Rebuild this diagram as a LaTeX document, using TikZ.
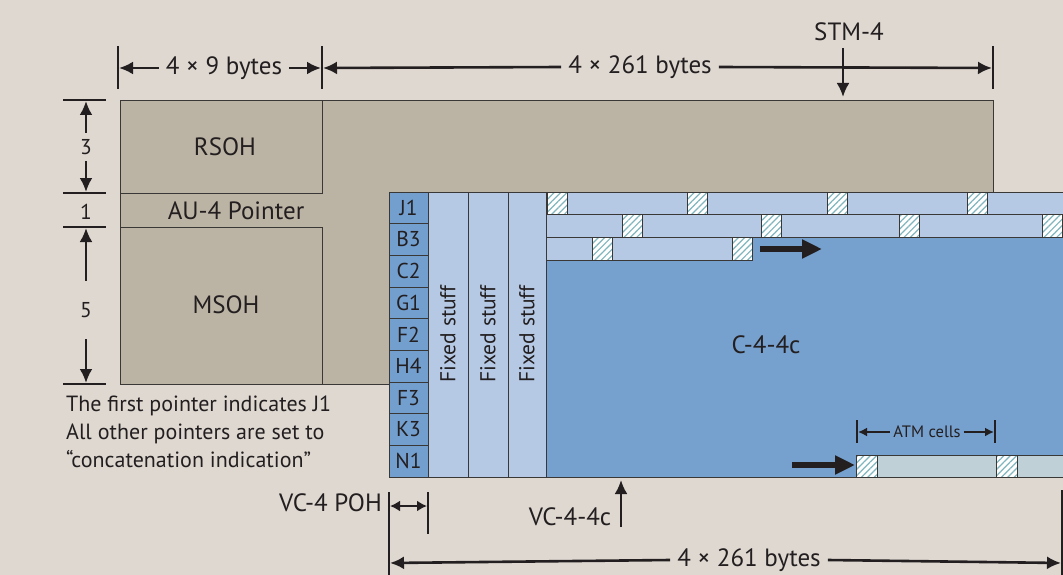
\documentclass[tikz,border=0pt]{standalone}
\usepackage{fontspec}
\setmainfont{PT Sans}
\usepackage{tikz}
\usetikzlibrary{positioning,calc,arrows.meta,patterns.meta}

\definecolor{paper}{HTML}{DFD8D1}
\definecolor{soh}{HTML}{BBB3A4}
\definecolor{edge}{HTML}{3A3836}
\definecolor{ink}{HTML}{231F20}
\definecolor{pohblue}{HTML}{739FCF}
\definecolor{cfour}{HTML}{76A0CE}
\definecolor{fixed}{HTML}{B5C9E5}
\definecolor{atmbar}{HTML}{BFD1D7}
\definecolor{hatch}{HTML}{7FB5BD}

\begin{document}
\begin{tikzpicture}[x=1pt, y=-1pt,
    box/.style={draw=edge, line width=0.9pt},
    lbl/.style={font=\fontsize{25}{29}\selectfont, text=ink, inner sep=4pt},
    dimlbl/.style={lbl, inner xsep=7pt},
    small/.style={font=\fontsize{21.5}{25}\selectfont, text=ink, inner sep=1pt},
    dim/.style={draw=ink, line width=2.6pt, -{Latex[length=14pt,width=13pt]}},
    tinydim/.style={draw=ink, line width=2pt, -{Latex[length=9pt,width=9pt]}},
    tick/.style={draw=ink, line width=1.4pt},
    fat/.style={draw=ink, line width=5.5pt, -{Triangle[length=20pt,width=18pt]}},
    hatchcell/.style={box, preaction={fill=white},
        pattern={Lines[angle=45,distance=4.5pt,line width=1.2pt]}, pattern color=hatch},
]
    % Background and page size
    \useasboundingbox (0,0) rectangle (1063,575);
    \fill[paper] (0,0) rectangle (1063,575);

    % STM-4 frame: section overhead
    \draw[box, fill=soh] (120,100) rectangle (993,384);
    \draw[box] (120,100) rectangle (322,193);
    \draw[box] (120,227) rectangle (322,384);
    \node[lbl] (rsoh) at (225,147) {RSOH};
    \node[lbl] (ptr) at (236,211) {AU-4 Pointer};
    \node[lbl] (msoh) at (226,305) {MSOH};

    % VC-4-4c: path overhead column
    \foreach \r [count=\i] in {J1,B3,C2,G1,F2,H4,F3,K3,N1} {
        \node[box, fill=pohblue, small, minimum width=39pt, minimum height=31.67pt]
            (poh\i) at (408.5,{192+31.67*(\i-0.5)}) {\r};
    }

    % Fixed stuff columns
    \foreach \xa/\xb [count=\i] in {428/468, 468/508, 508/546} {
        \draw[box, fill=fixed] (\xa,192) rectangle (\xb,477);
        \node[small, rotate=90] (fs\i) at ({(\xa+\xb)/2},334) {Fixed stuff};
    }

    % C-4-4c payload area
    \draw[box, fill=cfour] (546,192) rectangle (1067,477);
    \node[lbl] (c4) at (766,345) {C-4-4c};

    % ATM cell rows at the top
    \draw[box, fill=fixed] (546,192) rectangle (1067,214.5);
    \draw[box, fill=fixed] (546,214.5) rectangle (1067,237);
    \draw[box, fill=fixed] (546,237) rectangle (752,260);
    \foreach \x in {547,687,827,967} \draw[hatchcell] (\x,192) rectangle ++(20,22.5);
    \foreach \x in {622,761,899,1042} \draw[hatchcell] (\x,214.5) rectangle ++(20,22.5);
    \foreach \x in {592,732} \draw[hatchcell] (\x,237) rectangle ++(20,23);
    \coordinate (rowtail) at (760,249);
    \coordinate (rowhead) at (822,249);
    \draw[fat] (rowtail) -- (rowhead);

    % ATM cell row at the bottom
    \draw[box, fill=atmbar] (856,455) rectangle (1067,477);
    \foreach \x in {856,996} \draw[hatchcell] (\x,455) rectangle ++(21,22);
    \coordinate (celltail) at (792,465);
    \coordinate (cellin) at (855,465);
    \draw[fat] (celltail) -- (cellin);

    % ATM cells dimension
    \draw[tick] (857,420) -- (857,443);
    \draw[tick] (995,420) -- (995,443);
    \node[font=\fontsize{16.5}{19}\selectfont, text=ink, inner sep=3pt] (atm) at (927,432) {ATM cells};
    \draw[tinydim] (atm.west) -- (858,432);
    \draw[tinydim] (atm.east) -- (994,432);

    % Top dimensions
    \foreach \x in {118,322,993} \draw[tick] (\x,46) -- (\x,89);
    \node[dimlbl] (w9) at (224,68) {4 × 9 bytes};
    \draw[dim] (w9.west) -- (119,68);
    \draw[dim] (w9.east) -- (321,68);
    \node[dimlbl] (w261) at (640,67) {4 × 261 bytes};
    \draw[dim] (w261.west) -- (323,68);
    \draw[dim] (w261.east) -- (992,68);
    \node[lbl] (stm) at (849,32) {STM-4};
    \coordinate (stmtip) at (843,97);
    \draw[dim] (843,48) -- (stmtip);

    % Left dimensions (rows)
    \foreach \y in {100,193,227,384} \draw[tick] (63,\y) -- (106,\y);
    \node[small, minimum height=28pt] (h3) at (86,147) {3};
    \draw[dim] (h3.north) -- (86,101);
    \draw[dim] (h3.south) -- (86,192);
    \node[small] (h1) at (86,212) {1};
    \node[small, minimum height=58pt] (h5) at (86,310) {5};
    \draw[dim] (h5.north) -- (86,228);
    \draw[dim] (h5.south) -- (86,383);

    % Pointer note
    \node[font=\fontsize{22}{28}\selectfont, text=ink, align=left, anchor=north west, inner sep=0pt]
        (note) at (66,396) {The first pointer indicates J1\\All other pointers are set to\\“concatenation indication”};

    % Bottom dimensions
    \draw[tick] (389,492) -- (389,576);
    \draw[tick] (428,492) -- (428,534);
    \draw[tick] (1062,490) -- (1062,576);
    \node[lbl, anchor=east] (pohlbl) at (386,503) {VC-4 POH};
    \draw[draw=ink, line width=2.6pt, {Latex[length=10pt,width=11pt]}-{Latex[length=10pt,width=11pt]}] (390,506) -- (427,506);
    \node[lbl] (vc) at (570,517) {VC-4-4c};
    \coordinate (vcfoot) at (621,527);
    \draw[dim] (vcfoot) -- (621,480);
    \node[dimlbl] (wb) at (749,560) {4 × 261 bytes};
    \draw[dim] (wb.west) -- (390,563);
    \draw[dim] (wb.east) -- (1061,563);
\end{tikzpicture}
\end{document}
